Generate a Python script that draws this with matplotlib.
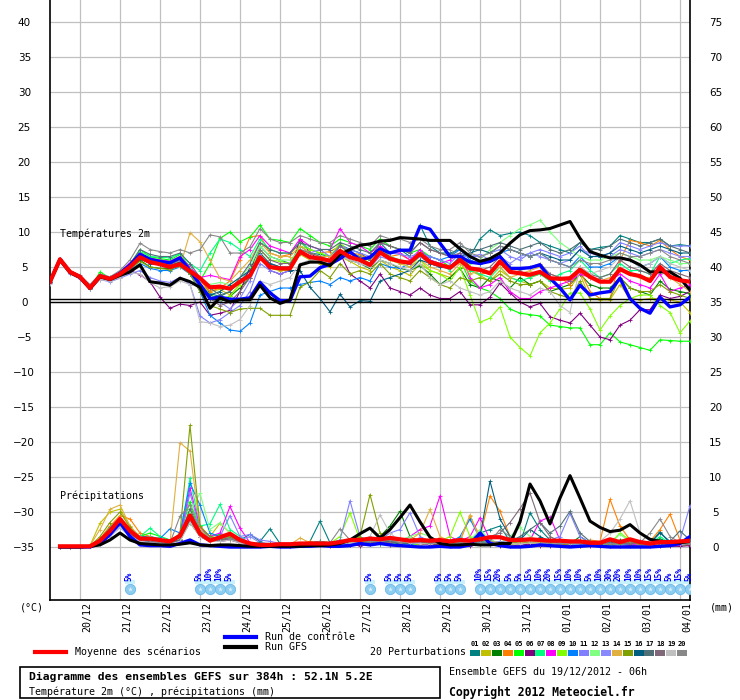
import matplotlib
matplotlib.use("Agg")
import matplotlib.pyplot as plt
from matplotlib.patches import Rectangle
from matplotlib.lines import Line2D
from matplotlib.transforms import ScaledTranslation
import numpy as np

plt.rcParams['font.family'] = ['DejaVu Sans Mono', 'DejaVu Sans']

# ---- data (6-hourly steps, 0..384 h) ----
hours = np.arange(0, 385, 6)

day_hours = [18 + 24 * k for k in range(16)]
day_labels = ["20/12", "21/12", "22/12", "23/12", "24/12", "25/12", "26/12", "27/12",
              "28/12", "29/12", "30/12", "31/12", "01/01", "02/01", "03/01", "04/01"]

# temperature 2m (degC)
t_mean = [2.9, 6.1, 4.3, 3.6, 2.0, 3.7, 3.3, 4.0, 5.0, 6.4, 5.7, 5.4, 5.0, 5.4, 4.4, 3.4,
          2.1, 2.2, 1.9, 2.9, 3.8, 6.4, 5.0, 4.8, 4.8, 7.2, 6.4, 6.2, 5.9, 7.3, 6.4, 6.0,
          5.3, 7.1, 6.2, 5.8, 5.6, 6.9, 5.7, 5.3, 4.9, 6.0, 4.8, 4.6, 4.1, 5.8, 4.3, 4.1,
          3.9, 4.3, 3.4, 3.3, 3.4, 4.6, 3.6, 2.9, 2.9, 4.7, 4.0, 3.7, 3.0, 5.0, 3.6, 3.1, 2.9]
t_gfs = [2.9, 6.0, 4.2, 3.5, 1.9, 3.6, 3.2, 3.8, 4.3, 5.3, 2.9, 2.7, 2.4, 3.4, 2.9, 2.1,
         -0.9, 0.6, 0.0, 0.3, 0.3, 2.4, 0.6, -0.2, 0.3, 5.3, 5.7, 5.7, 5.2, 6.8, 7.5, 8.1,
         8.3, 8.7, 8.8, 9.2, 9.1, 9.0, 8.8, 8.8, 8.8, 7.6, 6.5, 5.8, 6.2, 7.0, 8.4, 9.6,
         10.2, 10.3, 10.5, 11.0, 11.5, 9.1, 7.2, 6.7, 6.3, 6.3, 6.0, 5.3, 4.3, 4.3, 4.3, 3.4, 1.7]
t_ctrl = [2.9, 6.1, 4.3, 3.6, 2.0, 3.7, 3.3, 4.1, 5.3, 6.8, 6.1, 5.8, 5.6, 6.3, 4.5,
          2.5, 0.5, 0.7, 0.4, 0.4, 0.6, 2.8, 1.3, 0.2, 0.2, 3.6, 3.7, 4.9, 5.4, 6.2, 7.2, 6.0, 6.4,
          7.6, 7.0, 7.4, 7.4, 10.8, 10.4, 8.4, 6.5, 6.5, 5.7, 5.5, 5.8, 6.5,
          4.8, 4.8, 4.9, 5.3, 3.4, 2.0, 0.3, 2.4, 1.0, 1.3, 1.5, 3.4, 0.5, -0.9, -1.6, 0.7, -0.7, -0.4, 0.7]

T01 = [2.8, 6.0, 4.4, 3.6, 2.1, 3.7, 3.2, 4.1, 5.2, 6.8, 6.0, 5.8, 5.6, 6.2, 4.8, 3.5, 1.2, 0.8, 1.5, 3.0, 4.5,
       8.0, 6.5, 6.0, 5.5, 8.0, 7.0, 6.8, 6.5, 8.2, 7.5, 7.0, 6.0, 8.5, 7.0, 7.5, 6.5, 11.0, 8.0, 7.0, 7.0, 7.5, 6.5, 9.0, 10.3, 9.5,
       9.8, 10.0, 9.5, 8.5, 8.0, 7.5, 7.0, 8.5, 7.5, 7.8, 8.0, 9.5, 9.0, 8.5, 8.5, 9.0, 8.0, 8.2, 8.0]
T02 = [2.9, 6.1, 4.2, 3.5, 2.0, 3.6, 3.4, 3.9, 5.0, 6.2, 5.5, 5.4, 5.2, 5.6, 4.5, 2.5, 1.5, 1.8, 1.0, 2.5, 4.0,
       6.5, 4.8, 4.5, 4.5, 6.8, 6.0, 5.5, 5.0, 6.5, 5.8, 5.0, 4.5, 6.0, 5.0, 4.5, 3.8, 5.5, 4.5, 4.0, 3.5, 5.0, 4.5, 3.8, 3.0, 4.5,
       3.5, 3.0, 2.5, 3.0, 2.0, 1.8, 2.0, 4.0, 0.5, 0.3, 0.3, 2.5, 0.5, 0.3, 0.5, 0.5, 0.3, 0.0, -1.5]
T03 = [2.8, 6.0, 4.3, 3.4, 1.9, 3.5, 3.2, 3.8, 4.8, 6.0, 5.0, 4.8, 4.8, 5.2, 4.0, 2.0, 0.5, 0.0, 0.8, 2.0, 3.5,
       7.0, 5.5, 5.0, 5.0, 7.0, 6.5, 6.0, 5.5, 7.0, 6.0, 5.5, 4.8, 6.0, 5.5, 4.8, 4.5, 5.2, 4.0, 2.5, 3.5, 4.8, 2.5, 2.0, 3.5, 3.0,
       2.0, 3.5, 2.5, 3.0, 1.5, 2.0, 2.5, 4.0, 2.5, 2.0, 2.0, 3.5, 2.0, 1.5, 1.0, 3.0, 1.8, 1.5, 1.2]
T04 = [2.9, 6.0, 4.2, 3.6, 2.1, 3.8, 3.4, 4.1, 5.3, 7.0, 6.3, 6.0, 5.8, 6.5, 5.0, 3.0, 1.5, 2.0, 3.0, 6.0, 9.3,
       9.5, 7.0, 6.5, 6.8, 8.5, 7.5, 7.0, 7.2, 8.0, 7.0, 6.8, 6.0, 7.8, 6.5, 6.8, 6.0, 7.0, 5.5, 5.0, 5.2, 6.0, 4.5, 4.0, 4.2, 5.5,
       4.5, 4.0, 3.5, 4.0, 3.0, 3.5, 2.5, 4.5, 1.5, 0.5, 0.5, 6.0, 8.8, 8.5, 8.0, 8.8, 7.5, 6.5, 6.0]
T05 = [2.9, 6.0, 4.3, 3.5, 2.0, 4.3, 3.4, 4.0, 5.4, 7.5, 6.5, 6.2, 6.0, 6.8, 5.0, 3.0, 5.5, 9.1, 10.0, 8.6, 9.3,
       11.0, 9.0, 8.8, 8.5, 10.5, 9.5, 8.5, 8.0, 9.0, 8.5, 8.0, 7.5, 9.0, 8.0, 7.5, 7.0, 7.5, 6.5, 6.0, 5.0, 6.0, 3.0, 2.0, 1.5, 0.5,
       -1.0, -1.6, -1.8, -2.0, -3.3, -3.5, -3.7, -3.7, -6.1, -6.1, -4.4, -5.7, -6.1, -6.5, -6.9, -5.4, -5.5, -5.6, -5.6]
T06 = [2.8, 6.0, 4.3, 3.5, 2.0, 3.5, 3.2, 3.7, 4.5, 3.9, 2.9, 0.7, -0.9, -0.3, -0.5, 0.0, -1.9, -1.6, -1.2, 1.5, 5.0,
       6.5, 4.5, 4.0, 4.5, 9.0, 7.0, 6.0, 5.5, 7.0, 4.0, 3.0, 2.0, 4.0, 2.0, 1.5, 1.0, 2.0, 1.0, 0.5, 0.5, 1.5, -0.4, -0.4, 0.7, 2.7,
       1.3, 0.0, -0.7, -0.2, -2.1, -2.6, -3.0, -1.6, -3.3, -5.0, -5.4, -3.3, -2.6, -1.1, -1.1, 1.0, 0.5, 0.8, 1.5]
T07 = [3.0, 6.1, 4.4, 3.6, 2.2, 3.9, 3.4, 4.2, 5.5, 7.2, 6.5, 6.4, 6.3, 6.9, 5.5, 4.5, 7.0, 9.0, 8.5, 7.5, 6.5,
       9.0, 7.5, 7.0, 7.0, 8.5, 7.5, 7.0, 6.5, 8.0, 7.0, 6.5, 6.0, 7.5, 6.5, 6.0, 5.5, 7.5, 6.0, 5.5, 4.5, 6.5, 4.5, 4.0, 3.5, 5.0,
       3.5, 3.0, 3.5, 4.0, 3.0, 4.0, 4.5, 6.0, 4.5, 3.5, 4.0, 5.5, 4.5, 4.5, 4.0, 6.5, 5.5, 6.0, 6.2]
T08 = [2.9, 6.0, 4.3, 3.6, 2.0, 3.6, 3.3, 4.3, 5.6, 7.0, 6.2, 6.0, 5.8, 6.5, 5.0, 3.5, 3.8, 3.5, 3.2, 6.5, 7.5,
       9.5, 8.0, 7.5, 7.0, 9.0, 8.0, 7.5, 7.5, 10.5, 8.5, 8.0, 7.0, 8.0, 7.0, 7.0, 6.0, 7.5, 6.0, 5.5, 6.0, 7.0, 3.5, 2.0, 2.5, 3.5,
       1.5, 0.5, 0.5, 1.5, 2.0, 2.5, 3.0, 4.0, 3.5, 3.0, 3.0, 4.0, 3.0, 2.5, 2.0, 4.0, 1.5, 2.0, 2.5]
T09 = [2.9, 6.0, 4.3, 3.5, 2.0, 3.6, 3.3, 4.0, 5.1, 6.5, 5.8, 5.5, 5.2, 5.8, 4.5, 2.5, 1.0, 0.5, 0.8, 2.5, 4.0,
       7.5, 6.0, 5.8, 5.5, 8.0, 7.5, 7.0, 6.5, 8.5, 7.0, 6.5, 5.5, 7.0, 6.0, 5.5, 5.0, 6.0, 4.5, 4.0, 3.0, 5.0, 1.0, -2.9, -2.3, -0.7,
       -5.0, -6.5, -7.7, -4.4, -3.0, -1.0, 1.3, 1.3, -1.0, -4.0, -2.0, -0.5, 0.5, 1.0, 1.0, -0.5, -1.5, -4.4, -2.7]
T10 = [2.7, 5.9, 4.2, 3.4, 1.9, 3.4, 3.1, 3.8, 4.6, 5.5, 4.8, 4.5, 4.5, 5.0, 4.0, 1.5, -1.9, -3.0, -4.0, -4.2, -3.0,
       1.0, 1.5, 2.0, 2.0, 2.5, 2.8, 3.0, 2.5, 3.5, 3.0, 3.5, 3.0, 5.5, 5.0, 4.8, 5.5, 7.0, 6.5, 6.0, 6.5, 7.5, 6.0, 5.5, 6.0, 7.0,
       7.5, 7.0, 6.5, 7.0, 6.0, 5.5, 5.0, 6.5, 5.0, 5.0, 5.5, 6.5, 6.0, 5.0, 5.5, 6.5, 5.0, 4.5, 4.5]
T11 = [2.7, 5.8, 4.0, 3.3, 1.8, 3.2, 2.9, 3.4, 4.0, 4.5, 3.5, 3.0, 2.8, 3.5, 2.5, -2.0, -3.0, -2.5, -1.5, -0.5, 1.5,
       5.5, 4.5, 4.0, 4.5, 7.5, 7.0, 7.5, 6.5, 8.0, 7.5, 7.0, 6.5, 7.5, 7.0, 6.8, 6.5, 7.0, 6.5, 6.0, 5.5, 7.0, 6.5, 6.5, 7.0, 7.5,
       6.5, 6.0, 7.0, 7.5, 7.0, 6.5, 7.0, 8.0, 6.5, 6.5, 7.0, 8.5, 8.0, 7.5, 8.0, 8.5, 8.0, 8.0, 8.0]
T12 = [2.9, 6.1, 4.4, 3.6, 2.1, 3.8, 3.4, 4.1, 5.3, 6.8, 6.0, 5.8, 5.6, 6.2, 4.8, 3.0, 2.5, 2.8, 2.5, 3.5, 5.0,
       8.0, 6.5, 6.0, 6.0, 7.5, 7.0, 6.5, 6.0, 7.5, 6.5, 6.0, 5.5, 7.0, 6.0, 5.5, 5.0, 6.5, 5.5, 5.0, 4.8, 6.0, 5.5, 6.0, 7.5, 8.5,
       9.5, 10.5, 11.0, 11.7, 10.0, 8.5, 7.5, 6.5, 6.0, 6.0, 6.5, 7.0, 6.5, 6.0, 6.0, 6.5, 6.0, 5.5, 5.5]
T13 = [2.8, 6.0, 4.2, 3.5, 2.0, 3.5, 3.3, 3.9, 4.9, 6.3, 5.5, 5.3, 5.0, 5.8, 4.3, 2.0, 0.5, 0.0, -1.0, 0.5, 3.0,
       6.8, 5.5, 5.0, 5.0, 7.0, 6.5, 6.0, 5.8, 7.0, 6.0, 5.5, 5.0, 6.5, 6.0, 5.8, 5.5, 6.5, 5.5, 5.0, 4.8, 6.5, 6.5, 6.8, 6.0, 6.5,
       5.5, 6.5, 7.0, 6.5, 6.0, 5.5, 6.0, 7.5, 7.0, 6.5, 6.5, 7.5, 7.0, 6.5, 7.0, 7.5, 7.0, 6.5, 6.5]
T14 = [2.9, 6.0, 4.3, 3.6, 2.4, 3.9, 3.3, 4.0, 5.0, 6.5, 6.0, 5.8, 5.5, 5.0, 9.9, 8.6, 6.0, 3.4, 3.0, 4.5, 6.0,
       8.5, 7.0, 6.5, 6.5, 8.0, 7.0, 6.5, 6.5, 7.5, 6.5, 6.0, 5.5, 7.0, 6.0, 5.5, 5.0, 6.0, 5.0, 4.5, 4.0, 5.5, 4.0, 4.5, 4.0, 5.0,
       3.5, 4.0, 4.5, 5.0, 4.0, 3.5, 3.5, 5.0, 3.5, 3.0, 3.5, 4.5, 4.0, 3.5, 3.5, 4.5, 3.5, 2.5, 1.5]
T15 = [2.8, 5.9, 4.2, 3.5, 2.0, 3.5, 3.2, 3.8, 4.7, 5.8, 5.0, 4.8, 4.6, 5.2, 4.0, 1.5, -0.5, -1.0, -1.5, -1.0, -0.9,
       -0.9, -1.9, -1.9, -1.9, 2.1, 2.9, 4.5, 3.5, 5.5, 4.0, 4.5, 4.0, 5.5, 4.0, 3.5, 3.0, 4.5, 3.5, 2.5, 2.0, 3.5, 3.0, 3.5, 3.0, 4.0,
       3.0, 2.5, 2.5, 3.0, 1.5, 1.0, 0.5, 3.0, 0.5, 0.5, 0.5, 3.5, 2.0, 1.5, 1.5, 2.5, 1.5, 1.0, 0.5]
T16 = [2.9, 6.0, 4.3, 3.5, 2.0, 3.6, 3.2, 3.9, 4.9, 6.2, 5.5, 5.4, 5.2, 5.7, 4.5, 2.5, 1.0, 1.5, 2.5, 3.5, 4.5,
       6.5, 5.5, 5.0, 4.5, 4.5, 2.1, 0.5, -1.4, 1.1, -0.7, 0.2, 0.1, 3.0, 3.5, 4.0, 4.5, 6.0, 5.5, 5.0, 5.0, 6.5, 7.0, 7.5, 7.0, 8.0,
       7.5, 7.0, 6.5, 7.0, 6.5, 6.0, 6.0, 7.5, 6.5, 6.5, 7.0, 8.0, 7.5, 7.0, 7.5, 8.0, 7.5, 7.0, 7.0]
T17 = [2.9, 6.0, 4.3, 3.6, 2.1, 3.7, 3.4, 4.1, 5.4, 7.5, 6.8, 6.5, 6.5, 7.0, 5.5, 3.5, 2.0, 1.0, 1.5, 3.5, 5.5,
       8.5, 7.5, 7.0, 7.0, 8.5, 8.0, 7.5, 7.5, 8.5, 8.0, 7.5, 7.0, 8.5, 8.0, 7.5, 7.0, 8.5, 7.5, 7.0, 6.5, 8.0, 7.5, 7.5, 8.0, 8.5,
       8.0, 7.5, 8.0, 8.5, 7.5, 7.0, 7.5, 8.5, 7.5, 7.5, 8.0, 9.0, 8.5, 8.0, 8.5, 9.0, 8.0, 7.5, 7.0]
T18 = [2.8, 6.0, 4.2, 3.5, 2.0, 3.5, 3.3, 4.0, 5.0, 6.5, 5.8, 5.6, 5.3, 6.0, 4.5, 2.5, 0.5, -0.5, 0.0, 1.5, 3.5,
       7.5, 6.0, 5.5, 5.5, 7.5, 7.0, 6.5, 6.0, 8.0, 7.0, 6.5, 6.0, 8.5, 8.0, 7.5, 7.0, 8.5, 7.5, 7.0, 6.5, 7.0, 5.0, 4.5, 5.0, 6.5,
       5.0, 4.5, 5.0, 5.5, 4.0, 3.5, 3.0, 5.0, 4.0, 3.5, 4.0, 6.0, 5.0, 4.5, 4.0, 5.5, 4.5, 4.0, 3.5]
T19 = [2.6, 5.8, 4.1, 3.4, 1.8, 3.2, 3.0, 3.5, 4.2, 4.0, 2.8, 2.0, 2.2, 3.0, 2.5, -2.8, -3.0, -3.5, -3.3, -2.5, -0.5,
       3.0, 2.5, 3.0, 3.5, 5.5, 6.0, 6.0, 5.5, 6.5, 6.0, 5.5, 5.0, 6.0, 5.5, 5.0, 4.5, 5.5, 3.5, 2.5, 3.0, 2.0, 1.5, 1.0, 1.5, 3.0,
       2.0, 1.5, 1.0, 2.0, 1.5, -0.5, -1.5, 5.0, 4.0, 4.5, 5.0, 6.5, 6.0, 5.0, 5.5, 6.5, 5.5, 5.0, 4.5]
T20 = [3.0, 6.2, 4.5, 3.8, 2.5, 4.0, 3.6, 4.5, 6.0, 8.4, 7.5, 7.2, 7.0, 7.5, 7.0, 7.5, 9.6, 9.3, 7.0, 7.0, 7.9,
       10.5, 9.0, 8.5, 8.5, 9.5, 9.0, 8.5, 8.5, 9.5, 9.0, 8.5, 8.0, 9.5, 9.0, 9.0, 8.5, 9.0, 8.0, 7.5, 7.5, 8.5, 7.0, 6.5, 7.0, 8.0,
       7.5, 7.0, 6.5, 7.0, 6.0, 5.5, 5.0, 6.0, 5.5, 5.5, 6.0, 7.0, 6.5, 6.5, 7.0, 7.5, 6.5, 6.0, 5.5]

# precipitation (mm per 6 h), steps 6..384 h
p_mean = [0.1, 0.1, 0.1, 0.1, 0.9, 2.3, 4.0, 2.3, 1.2, 1.2, 1.0, 0.8, 1.6, 4.5, 1.9, 0.9,
          1.4, 1.9, 1.0, 0.5, 0.3, 0.3, 0.4, 0.4, 0.5, 0.5, 0.5, 0.5, 0.7, 1.0, 1.0, 1.2,
          1.1, 1.3, 1.1, 0.9, 1.0, 0.9, 1.0, 0.8, 1.0, 0.9, 1.1, 1.4, 1.4, 1.0, 1.0, 1.1,
          1.0, 0.9, 0.9, 0.8, 0.8, 0.6, 0.6, 1.1, 0.7, 1.1, 0.7, 0.5, 0.7, 0.7, 0.8, 0.9]
p_gfs = [0.0, 0.0, 0.0, 0.1, 0.3, 1.0, 2.0, 1.0, 0.5, 0.4, 0.3, 0.3, 0.4, 0.6, 0.3, 0.2,
         0.3, 0.3, 0.2, 0.1, 0.1, 0.1, 0.1, 0.1, 0.1, 0.2, 0.2, 0.3, 0.5, 1.0, 1.9, 2.7,
         1.3, 2.5, 4.2, 6.0, 3.6, 1.4, 0.5, 0.3, 0.3, 0.4, 0.3, 0.3, 0.5, 0.5, 3.6, 9.0,
         6.6, 3.3, 7.0, 10.2, 7.0, 3.7, 2.8, 2.2, 2.4, 3.2, 2.0, 1.1, 0.8, 0.7, 0.6, 0.8]
p_ctrl = [0.0, 0.0, 0.0, 0.0, 0.5, 1.8, 3.5, 1.5, 0.3, 0.2, 0.2, 0.1, 0.5, 1.0, 0.3, 0.2,
          0.1, 0.0, 0.0, 0.0, 0.0, 0.1, 0.0, 0.0, 0.1, 0.1, 0.2, 0.1, 0.1, 0.2, 0.5, 0.3,
          0.5, 0.3, 0.2, 0.1, 0.0, 0.0, 0.1, 0.0, 0.0, 0.3, 2.0, 0.5, 0.2, 0.0, 0.0, 0.1,
          0.3, 0.2, 0.1, 0.0, 0.1, 0.2, 0.1, 0.0, 0.0, 0.0, 0.0, 0.0, 0.1, 0.2, 0.5, 1.5]

P01 = [0, 0, 0, 0.1, 0.8, 2.0, 3.5, 2.5, 1.5, 1.2, 0.8, 0.6, 1.5, 5.0, 2.0, 1.0,
       1.2, 1.5, 1.0, 1.8, 0.8, 2.6, 0.5, 0.3, 0.5, 0.8, 3.7, 0.6, 0.4, 0.8, 0.5, 1.5,
       0.8, 1.0, 0.5, 0.6, 0.8, 0.5, 0.3, 0.4, 0.8, 1.0, 2.0, 2.5, 3.0, 0.8, 0.5, 4.9,
       2.5, 1.0, 0.5, 0.4, 0.8, 0.5, 0.3, 0.5, 0.5, 0.8, 0.3, 0.5, 2.2, 0.5, 0.3, 0.4]
P02 = [0, 0, 0, 0.2, 3.4, 5.0, 5.4, 3.0, 1.0, 0.8, 0.6, 0.5, 1.0, 4.5, 2.5, 1.5,
       3.4, 2.0, 1.0, 0.5, 0.3, 0.3, 0.2, 0.2, 0.3, 0.5, 0.3, 0.5, 0.8, 0.5, 0.4, 0.6,
       0.5, 0.8, 1.0, 0.5, 0.3, 0.5, 0.8, 0.3, 0.5, 0.3, 0.5, 0.8, 0.5, 0.3, 0.3, 0.5,
       0.3, 0.5, 0.4, 0.3, 0.2, 0.3, 0.5, 0.3, 0.4, 0.3, 0.2, 0.3, 0.5, 0.3, 0.2, 0.3]
P03 = [0, 0, 0, 0.1, 1.0, 2.5, 3.8, 2.0, 1.0, 1.5, 1.0, 0.8, 1.0, 3.5, 1.5, 1.0,
       1.0, 1.5, 0.8, 0.4, 0.3, 0.5, 0.3, 0.2, 0.3, 0.4, 0.6, 0.5, 1.0, 0.8, 0.5, 1.0,
       1.5, 3.0, 5.1, 1.5, 0.8, 0.5, 0.4, 0.6, 0.8, 1.0, 0.6, 0.5, 0.8, 0.5, 0.5, 0.8,
       1.2, 0.8, 0.5, 0.4, 1.5, 0.6, 0.4, 0.5, 1.0, 0.8, 0.4, 0.6, 1.2, 0.5, 0.4, 0.5]
P04 = [0, 0, 0, 0.1, 1.2, 3.0, 4.5, 4.0, 2.0, 1.5, 1.0, 0.8, 1.5, 4.5, 1.8, 0.8,
       1.0, 1.2, 0.8, 0.5, 0.4, 0.5, 0.3, 0.3, 0.5, 0.8, 0.5, 0.4, 0.6, 0.8, 0.5, 0.8,
       0.6, 0.8, 0.5, 0.4, 0.8, 1.0, 0.6, 0.5, 0.8, 4.4, 1.5, 7.3, 5.1, 1.5, 0.6, 0.5,
       0.8, 0.5, 0.3, 0.4, 0.5, 1.0, 0.8, 6.8, 3.0, 1.0, 0.5, 0.8, 2.5, 4.7, 1.0, 0.5]
P05 = [0, 0, 0, 0.1, 1.0, 2.8, 4.0, 2.2, 1.5, 2.0, 1.5, 1.0, 1.8, 6.5, 2.5, 1.5,
       1.8, 1.5, 1.0, 0.5, 0.3, 0.4, 0.3, 0.3, 0.4, 0.5, 0.8, 0.6, 0.5, 0.8, 0.6, 0.5,
       0.5, 0.6, 0.8, 0.4, 0.5, 0.6, 0.8, 0.5, 0.8, 1.0, 0.5, 0.4, 0.6, 0.5, 0.8, 1.0,
       0.5, 0.4, 0.6, 0.5, 0.3, 0.5, 0.4, 0.6, 0.5, 0.4, 0.3, 0.5, 0.6, 0.4, 0.3, 0.4]
P06 = [0, 0, 0, 0.1, 0.6, 1.8, 3.0, 1.8, 1.0, 0.8, 0.6, 0.5, 1.2, 4.0, 1.5, 0.8,
       0.8, 1.0, 0.6, 0.3, 0.2, 0.3, 0.2, 0.2, 0.3, 0.4, 0.3, 0.2, 0.5, 0.3, 0.2, 0.4,
       0.5, 0.3, 0.8, 1.5, 0.5, 0.3, 0.4, 0.2, 0.3, 0.2, 0.4, 0.3, 0.2, 0.1, 0.3, 0.4,
       0.2, 0.1, 0.2, 0.3, 0.1, 0.2, 0.1, 0.2, 0.1, 0.2, 0.1, 0.1, 0.2, 0.1, 0.1, 0.2]
P07 = [0, 0, 0, 0.1, 0.8, 2.2, 3.6, 2.0, 1.5, 2.7, 1.5, 1.0, 1.5, 9.8, 3.0, 3.3,
       6.1, 2.5, 1.5, 0.5, 0.3, 0.4, 0.3, 0.2, 0.3, 0.5, 0.4, 0.3, 0.6, 0.5, 0.4, 0.6,
       0.5, 0.6, 0.4, 0.5, 0.8, 0.6, 0.5, 0.4, 0.6, 0.5, 0.8, 0.6, 0.4, 0.5, 0.6, 0.8,
       0.5, 0.4, 0.6, 0.4, 0.3, 0.5, 0.4, 0.3, 0.4, 0.5, 0.3, 0.4, 1.5, 0.5, 0.3, 0.4]
P08 = [0, 0, 0, 0.1, 0.7, 2.0, 3.2, 2.0, 1.0, 1.2, 0.8, 0.6, 1.2, 8.4, 2.8, 1.5,
       2.0, 5.8, 2.7, 0.6, 0.3, 0.4, 0.2, 0.3, 0.3, 0.5, 0.4, 0.6, 0.8, 0.5, 0.4, 0.6,
       0.8, 1.0, 0.6, 1.5, 2.5, 3.0, 7.3, 1.5, 0.8, 1.5, 4.2, 1.0, 0.5, 0.6, 0.8, 1.0,
       3.7, 4.3, 1.0, 0.5, 0.4, 0.6, 0.5, 0.4, 0.5, 0.4, 0.3, 0.5, 0.6, 0.4, 0.3, 0.5]
P09 = [0, 0, 0, 0.1, 0.8, 2.0, 3.3, 2.4, 1.2, 1.0, 1.0, 0.8, 1.5, 5.4, 2.0, 1.0,
       1.0, 1.5, 1.0, 0.5, 0.3, 0.4, 0.3, 0.3, 0.5, 0.6, 0.4, 0.5, 1.5, 4.9, 1.0, 0.6,
       0.8, 0.6, 0.5, 0.8, 0.6, 0.5, 0.8, 1.5, 5.0, 1.5, 0.8, 0.6, 0.5, 0.4, 0.8, 1.0,
       0.5, 0.4, 0.6, 0.8, 0.5, 0.4, 0.3, 0.5, 2.0, 1.0, 0.5, 0.4, 0.6, 0.5, 1.0, 0.5]
P10 = [0, 0, 0, 0.1, 0.9, 2.4, 3.8, 2.5, 1.5, 1.5, 1.2, 2.6, 2.0, 9.1, 6.0, 2.0,
       1.5, 1.2, 0.8, 0.4, 0.3, 0.5, 0.3, 0.2, 0.4, 0.5, 0.6, 0.4, 0.5, 0.6, 0.5, 0.8,
       0.6, 0.8, 0.5, 0.4, 0.6, 0.8, 0.5, 0.6, 1.5, 4.0, 1.2, 0.8, 0.5, 0.6, 0.5, 0.8,
       0.6, 0.5, 0.8, 0.5, 0.4, 0.6, 0.5, 0.8, 0.5, 0.4, 0.6, 0.8, 0.5, 0.4, 0.6, 0.5]
P11 = [0, 0, 0, 0.1, 0.5, 1.5, 2.8, 1.5, 0.8, 0.6, 0.5, 0.4, 1.0, 7.7, 2.5, 1.2,
       1.5, 4.5, 1.5, 1.8, 1.0, 0.8, 0.5, 0.4, 0.5, 0.4, 0.6, 0.5, 1.0, 6.6, 1.5, 0.8,
       1.0, 2.0, 2.5, 4.9, 1.5, 0.8, 0.6, 0.5, 0.8, 1.0, 0.6, 0.5, 0.8, 0.6, 0.5, 0.8,
       0.6, 1.0, 1.5, 4.8, 1.5, 0.6, 0.5, 0.4, 0.5, 0.6, 0.4, 0.5, 0.8, 0.6, 1.0, 5.9]
P12 = [0, 0, 0, 0.1, 0.8, 2.2, 3.5, 2.0, 1.2, 1.5, 1.0, 0.8, 1.2, 5.0, 7.7, 2.5,
       3.5, 2.0, 1.0, 0.5, 0.3, 0.4, 0.3, 0.3, 0.4, 0.5, 0.6, 0.5, 0.8, 0.6, 0.5, 0.6,
       0.6, 0.5, 1.0, 1.5, 2.0, 1.5, 0.8, 0.6, 0.8, 1.0, 2.5, 1.0, 0.6, 1.5, 2.8, 1.5,
       0.8, 0.6, 0.5, 0.6, 0.5, 0.8, 0.6, 0.5, 1.8, 0.8, 0.5, 0.6, 0.8, 0.5, 0.6, 0.5]
P13 = [0, 0, 0, 0.1, 0.6, 1.8, 3.0, 1.8, 1.0, 0.8, 0.6, 0.5, 1.0, 4.5, 2.0, 1.0,
       1.2, 1.5, 1.0, 1.5, 0.6, 0.5, 0.3, 0.3, 0.4, 0.5, 0.6, 0.4, 0.6, 0.8, 0.5, 0.6,
       0.8, 0.6, 1.0, 0.8, 0.6, 0.8, 0.6, 0.5, 0.6, 0.8, 0.5, 0.6, 0.8, 0.5, 0.6, 0.8,
       0.6, 0.5, 0.8, 0.6, 0.5, 0.6, 0.5, 0.4, 0.5, 0.6, 0.4, 0.5, 0.6, 0.5, 0.4, 0.6]
P14 = [0, 0, 0, 0.2, 2.5, 5.4, 6.0, 3.0, 1.5, 1.0, 0.8, 0.6, 14.9, 13.7, 2.6, 1.0,
       1.0, 1.2, 0.8, 0.5, 0.3, 0.4, 0.3, 0.3, 1.3, 0.6, 0.5, 0.4, 0.6, 0.8, 0.5, 0.6,
       0.8, 0.6, 0.8, 1.0, 2.0, 5.4, 1.5, 0.8, 1.0, 4.6, 1.0, 0.8, 0.6, 0.5, 0.6, 0.8,
       0.6, 0.5, 0.8, 0.6, 0.5, 0.6, 0.5, 0.8, 0.6, 0.5, 0.6, 0.8, 0.5, 0.6, 0.5, 0.4]
P15 = [0, 0, 0, 0.1, 1.5, 3.5, 5.0, 2.8, 1.2, 1.0, 0.8, 0.6, 2.0, 17.4, 3.0, 1.5,
       1.2, 1.5, 0.8, 0.5, 0.3, 0.4, 0.3, 0.3, 0.4, 0.5, 0.6, 0.4, 0.6, 0.8, 1.5, 7.5,
       2.0, 0.8, 0.5, 0.6, 0.8, 0.5, 0.4, 0.6, 0.8, 0.6, 0.5, 0.4, 0.6, 0.5, 0.8, 0.6,
       0.5, 0.6, 0.4, 0.5, 0.8, 0.6, 0.5, 0.4, 0.5, 0.6, 0.4, 0.5, 0.4, 0.6, 0.5, 0.4]
P16 = [0, 0, 0, 0.1, 0.8, 2.0, 3.2, 2.0, 1.0, 1.2, 0.8, 0.6, 1.0, 4.0, 1.8, 1.0,
       1.0, 1.2, 0.8, 0.5, 0.6, 0.4, 0.3, 0.3, 0.5, 0.6, 0.8, 0.5, 0.6, 0.8, 0.5, 0.6,
       0.6, 0.8, 0.5, 0.6, 0.8, 0.6, 0.5, 0.8, 1.0, 0.8, 1.5, 9.4, 4.0, 1.5, 1.0, 2.5,
       1.5, 0.8, 0.6, 0.5, 0.8, 0.6, 0.5, 0.6, 0.8, 1.0, 0.6, 0.5, 2.0, 0.8, 0.5, 0.4]
P17 = [0, 0, 0, 0.1, 0.8, 2.2, 3.5, 2.2, 1.0, 0.8, 0.6, 0.5, 1.5, 5.5, 2.0, 1.0,
       1.0, 1.2, 0.8, 0.5, 0.3, 0.4, 0.3, 0.3, 0.4, 0.5, 0.6, 0.5, 0.8, 0.6, 0.5, 0.6,
       0.6, 0.8, 0.5, 0.6, 0.8, 0.5, 0.6, 0.8, 0.6, 0.5, 0.8, 0.6, 0.5, 0.8, 1.5, 2.5,
       3.5, 2.0, 3.0, 5.1, 2.0, 0.8, 0.6, 0.5, 0.6, 0.5, 0.8, 0.6, 1.0, 0.8, 2.3, 1.0]
P18 = [0, 0, 0, 0.1, 0.7, 2.0, 3.3, 1.8, 1.0, 0.8, 0.6, 0.5, 1.0, 4.0, 1.5, 0.8,
       1.0, 1.2, 0.8, 0.5, 0.3, 0.4, 0.3, 0.3, 0.4, 0.5, 0.6, 0.5, 0.6, 0.8, 0.5, 0.6,
       0.8, 0.6, 1.0, 0.8, 0.6, 0.8, 0.6, 0.5, 0.6, 0.8, 1.0, 1.5, 2.0, 3.5, 5.5, 7.7,
       3.5, 1.5, 0.8, 0.6, 0.5, 0.6, 0.5, 0.8, 0.6, 0.5, 0.6, 0.8, 0.5, 0.6, 0.5, 0.4]
P19 = [0, 0, 0, 0.1, 0.6, 1.6, 2.8, 1.6, 0.8, 0.6, 0.5, 0.4, 0.8, 3.5, 1.5, 0.8,
       0.8, 1.0, 0.6, 0.4, 0.3, 0.3, 0.2, 0.2, 0.3, 0.4, 0.5, 0.4, 0.5, 0.6, 0.8, 1.5,
       4.6, 2.0, 0.8, 0.6, 0.5, 0.4, 0.6, 0.5, 0.5, 0.6, 0.4, 0.5, 0.6, 0.5, 0.4, 0.6,
       0.5, 0.4, 0.6, 0.5, 0.4, 0.5, 0.8, 2.0, 4.0, 6.6, 2.0, 0.8, 0.6, 0.5, 0.4, 0.5]
P20 = [0, 0, 0, 0.2, 1.0, 2.8, 4.2, 2.5, 1.2, 1.0, 0.8, 0.6, 4.4, 6.0, 2.2, 1.2,
       1.5, 1.2, 1.0, 0.5, 0.4, 0.5, 0.3, 0.3, 0.5, 0.6, 0.8, 0.6, 2.6, 1.0, 0.6, 0.8,
       0.8, 1.0, 0.6, 0.8, 1.0, 0.6, 0.5, 0.8, 0.6, 0.8, 1.0, 0.8, 2.5, 1.5, 0.8, 1.0,
       0.8, 0.6, 0.5, 0.6, 0.5, 0.8, 0.6, 0.5, 0.6, 0.8, 0.6, 2.0, 4.0, 1.5, 0.6, 0.5]

pert_temp = [T01, T02, T03, T04, T05, T06, T07, T08, T09, T10,
             T11, T12, T13, T14, T15, T16, T17, T18, T19, T20]
pert_prec = [P01, P02, P03, P04, P05, P06, P07, P08, P09, P10,
             P11, P12, P13, P14, P15, P16, P17, P18, P19, P20]
pert_colors = ['#008080', '#c0c000', '#008000', '#ff8000', '#00ff00', '#800080', '#00ff80',
               '#ff00ff', '#80ff00', '#0080ff', '#8080ff', '#80ff80', '#8888ff', '#e0b040',
               '#80a000', '#005f80', '#507078', '#806878', '#c0c0c0', '#888888']

# snow probability
snow_steps = [8, 15, 16, 17, 18, 32, 34, 35, 36, 39, 40, 41] + list(range(43, 65))
snow_pct = [5, 5, 10, 10, 5, 5, 5, 5, 5, 5, 5, 5,
            10, 15, 20, 5, 5, 15, 10, 20, 15, 10, 10, 5, 10, 30, 20, 10, 10, 15, 15, 5, 15, 5]

PR0 = -35  # precipitation baseline on the temperature scale

# ---- figure ----
W, H = 740, 700
fig = plt.figure(figsize=(7.4, 7.0), dpi=100)


def fx(x):
    return x / W


def fy(y):
    return 1 - y / H


ax = fig.add_axes([fx(50), fy(600), 640 / W, 600 / H])
ax.set_xlim(0, 384)
ax.set_ylim((302 - 600) / 7, 302 / 7)

ax.set_yticks(range(-35, 41, 5))
ax.set_xticks(day_hours)
ax.set_xticklabels(day_labels, rotation=90, fontsize=7.2, family='DejaVu Sans Mono')
ax.tick_params(axis='x', length=0, pad=1.5)
ax.tick_params(axis='y', length=0, pad=18.5, labelsize=7.5)
for lab in ax.get_yticklabels():
    lab.set_ha('center')
    lab.set_family('DejaVu Sans')
for lab in ax.get_xticklabels():
    lab.set_transform(lab.get_transform() + ScaledTranslation(7 / 100, 0, fig.dpi_scale_trans))

ax.grid(True, color='#c0c0c0', lw=0.9)
ax.set_axisbelow(True)
ax.spines['top'].set_visible(False)
for s in ('left', 'right', 'bottom'):
    ax.spines[s].set_linewidth(1.2)

sec = ax.secondary_yaxis('right', functions=(lambda t: t - PR0, lambda m: m + PR0))
sec.set_yticks(range(0, 76, 5))
sec.tick_params(length=0, pad=18.5, labelsize=7.5)
sec.spines['right'].set_visible(False)
for lab in sec.get_yticklabels():
    lab.set_ha('center')
    lab.set_family('DejaVu Sans')

# zero line (double)
ax.axhline(0, color='black', lw=1.0, zorder=4)
ax.axhline(0.45, color='black', lw=1.0, zorder=4)

# perturbations
for tv, pv, c in zip(pert_temp, pert_prec, pert_colors):
    ax.plot(hours, tv, color=c, lw=0.8, marker='+', ms=2.5, mew=0.6, zorder=3)
    ax.plot(hours[1:], np.array(pv) + PR0, color=c, lw=0.8, marker='+', ms=2.5, mew=0.6, zorder=3)

# control, GFS, mean
ax.plot(hours, t_ctrl, color='#0000ff', lw=2.4, zorder=5)
ax.plot(hours[1:], np.array(p_ctrl) + PR0, color='#0000ff', lw=2.4, zorder=5)
ax.plot(hours, t_gfs, color='black', lw=2.2, zorder=6)
ax.plot(hours[1:], np.array(p_gfs) + PR0, color='black', lw=2.2, zorder=6)
ax.plot(hours, t_mean, color='#ff0000', lw=3.0, zorder=7)
ax.plot(hours[1:], np.array(p_mean) + PR0, color='#ff0000', lw=3.0, zorder=7)

# snow row
snow_h = [hours[i] for i in snow_steps]
ax.bar(snow_h, 0.6, width=6, bottom=(302 - 584) / 7, color='#c8f2fc', zorder=2)
ax.scatter(snow_h, [(302 - 589) / 7] * len(snow_h), s=55, color='#8ccdf0',
           edgecolors='#6ab8ea', linewidths=0.6, zorder=3)
ax.scatter(snow_h, [(302 - 589) / 7] * len(snow_h), s=14, marker='*', color='#d8f0ff',
           linewidths=0, zorder=4)
for h, p in zip(snow_h, snow_pct):
    ax.text(h - 0.9, (302 - 581) / 7, f"{p}%", rotation=90, ha='center', va='bottom',
            color='#0000ff', fontsize=5.6, fontweight='bold', zorder=5)

# in-plot labels
fig.text(fx(60), fy(234), "Températures 2m", fontsize=7.2, va='center', ha='left')
fig.text(fx(60), fy(496), "Précipitations", fontsize=7.2, va='center', ha='left')
fig.text(fx(32), fy(607), "(°C)", fontsize=7.2, va='center', ha='center')
fig.text(fx(722), fy(607), "(mm)", fontsize=7.2, va='center', ha='center')

# legend
fig.add_artist(Line2D([fx(35), fx(66)], [fy(652), fy(652)], color='#ff0000', lw=3.0))
fig.text(fx(75), fy(652), "Moyenne des scénarios", fontsize=7.2, va='center')
fig.add_artist(Line2D([fx(225), fx(256)], [fy(637), fy(637)], color='#0000ff', lw=3.0))
fig.text(fx(265), fy(637), "Run de contrôle", fontsize=7.2, va='center')
fig.add_artist(Line2D([fx(225), fx(256)], [fy(647), fy(647)], color='black', lw=3.0))
fig.text(fx(265), fy(647), "Run GFS", fontsize=7.2, va='center')
fig.text(fx(370), fy(652), "20 Perturbations", fontsize=7.2, va='center')
for k, c in enumerate(pert_colors):
    x0 = 470 + 10.9 * k
    fig.add_artist(Rectangle((fx(x0), fy(656)), 10 / W, 6 / H, facecolor=c,
                             edgecolor='none', transform=fig.transFigure))
    fig.text(fx(x0 + 5), fy(644), f"{k + 1:02d}", fontsize=5.0, fontweight='bold',
             ha='center', va='center')

# title box
fig.add_artist(Rectangle((fx(20), fy(698)), 420 / W, 31 / H, facecolor='none',
                         edgecolor='black', lw=1.2, transform=fig.transFigure))
fig.text(fx(29), fy(677), "Diagramme des ensembles GEFS sur 384h : 52.1N 5.2E",
         fontsize=8.2, fontweight='bold', va='center')
fig.text(fx(29), fy(692), "Température 2m (°C) , précipitations (mm)", fontsize=7.2, va='center')
fig.text(fx(449), fy(672), "Ensemble GEFS du 19/12/2012 - 06h", fontsize=7.2, va='center')
fig.text(fx(449), fy(692), "Copyright 2012 Meteociel.fr", fontsize=8.3, fontweight='bold', va='center')

fig.savefig("out.png", dpi=100)
